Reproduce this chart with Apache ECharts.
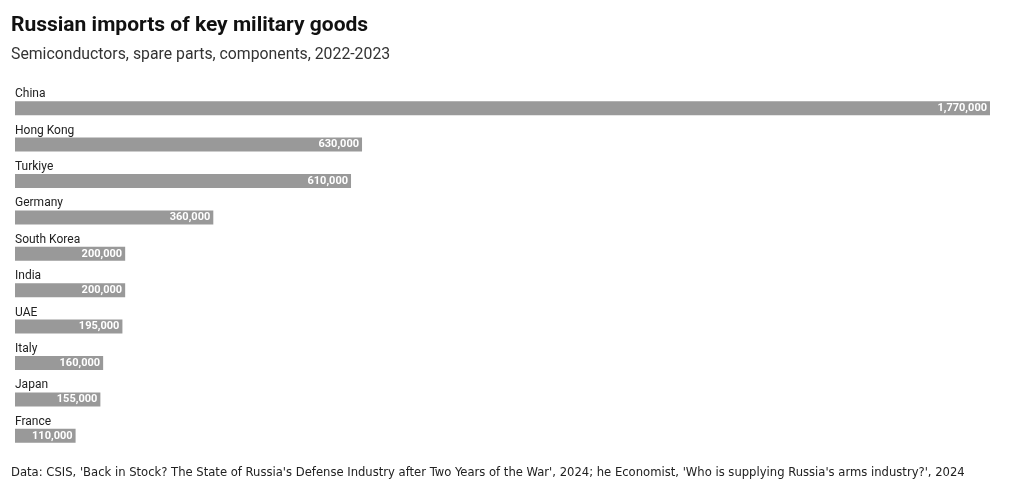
<!DOCTYPE html>
<html><head><meta charset="utf-8">
<script src="https://cdn.jsdelivr.net/npm/echarts@6/dist/echarts.min.js"></script>
<style>html,body{margin:0;padding:0;background:#fff}#c{width:1020px;height:492px}</style>
</head><body><div id="c"></div>
<script>
const categories = ["China","Hong Kong","Turkiye","Germany","South Korea","India","UAE","Italy","Japan","France"];
const values = [1770000,630000,610000,360000,200000,200000,195000,160000,155000,110000];
const titleText = "Russian imports of key military goods";
const subtitleText = "Semiconductors, spare parts, components, 2022-2023";
const sourceText = "Data: CSIS, 'Back in Stock? The State of Russia's Defense Industry after Two Years of the War', 2024; he Economist, 'Who is supplying Russia's arms industry?', 2024";

const chart = echarts.init(document.getElementById('c'));
chart.setOption({
  animation: false,
  backgroundColor: '#fff',
  title: [
    {text: titleText, left: 11, top: 15, padding: 0, textStyle: {fontFamily: 'Roboto', fontWeight: 'bold', fontSize: 21, color: '#111'}},
    {text: subtitleText, left: 11, top: 47, padding: 0, textStyle: {fontFamily: 'Roboto', fontWeight: 'normal', fontSize: 15.8, color: '#333'}},
    {text: sourceText, left: 11, top: 466, padding: 0, textStyle: {fontFamily: "'Liberation Sans Narrow', 'DejaVu Sans Condensed', sans-serif", fontWeight: 'normal', fontSize: 12.9, color: '#222'}}
  ],
  grid: {left: 15, right: 30, top: 90, bottom: 38},
  xAxis: {type: 'value', min: 0, max: 1770000, show: false},
  yAxis: {
    type: 'category', data: categories, inverse: true,
    axisLine: {show: false}, axisTick: {show: false}, splitLine: {show: false},
    axisLabel: {inside: true, align: 'left', verticalAlign: 'bottom', margin: 0, padding: [0,0,8,0],
      fontFamily: 'Roboto', fontSize: 12, color: '#222'}
  },
  series: [{
    type: 'bar', data: values, barWidth: 14,
    itemStyle: {color: '#999999'},
    label: {show: true, position: 'insideRight', distance: 3, color: '#fff', fontWeight: 'bold', fontSize: 11, fontFamily: 'Roboto',
      formatter: p => p.value.toLocaleString('en-US')}
  }]
});
</script></body></html>
